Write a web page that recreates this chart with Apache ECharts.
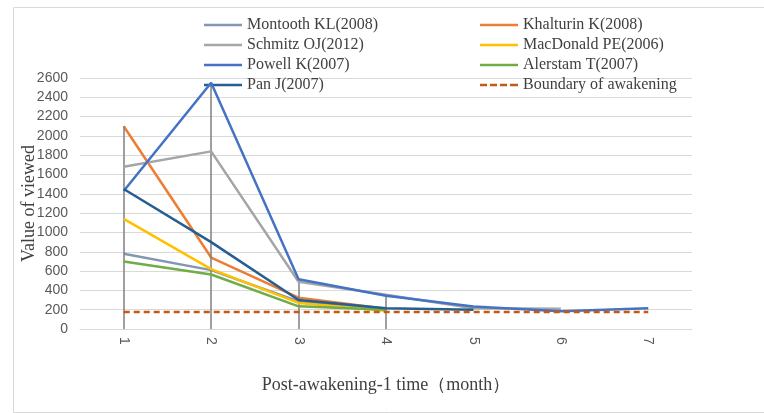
<!DOCTYPE html>
<html>
<head>
<meta charset="utf-8">
<script src="https://cdn.jsdelivr.net/npm/echarts@6/dist/echarts.min.js"></script>
<style>
html,body{margin:0;padding:0;background:#fff;}
#chart{width:764px;height:413px;}
</style>
</head>
<body>
<div id="chart"></div>
<script>
var categories = ['1','2','3','4','5','6','7'];
var montooth  = [780, 610, 285, 200, null, null, null];
var khalturin = [2100, 740, 325, 210, null, null, null];
var schmitz   = [1680, 1840, 490, 355, 215, 210, null];
var macdonald = [1140, 620, 270, 190, null, null, null];
var powell    = [1430, 2550, 515, 345, 232, 185, 215];
var alerstam  = [700, 565, 235, 200, null, null, null];
var panj      = [1450, 900, 300, 215, 200, null, null];
var boundary  = [175, 175, 175, 175, 175, 175, 175];
var dropCats  = ['1','2','3','4'];
var yTicks    = [0, 2600, 200];

var seriesDefs = [
  {name:'Montooth KL(2008)', data:montooth, color:'#8497B0'},
  {name:'Khalturin K(2008)', data:khalturin, color:'#ED7D31'},
  {name:'Schmitz OJ(2012)', data:schmitz, color:'#A5A5A5'},
  {name:'MacDonald PE(2006)', data:macdonald, color:'#FFC000'},
  {name:'Powell K(2007)', data:powell, color:'#4472C4'},
  {name:'Alerstam T(2007)', data:alerstam, color:'#70AD47'},
  {name:'Pan J(2007)', data:panj, color:'#255E91'},
  {name:'Boundary of awakening', data:boundary, color:'#C65911', dashed:true}
];

var solidIcon = 'path://M0,0h38v2.5h-38z';
var dashIcon = 'path://M0,0h7v2.5h-7zM10,0h7v2.5h-7zM20,0h7v2.5h-7zM30,0h8v2.5h-8z';

var series = seriesDefs.map(function(d, i){
  return {
    name:d.name, type:'line', data:d.data, symbol:'none', z:3+i,
    connectNulls:false,
    lineStyle:{color:d.color, width:2.5, type:d.dashed?[6,4]:'solid'},
    itemStyle:{color:d.color}
  };
});

function legendItems(names){
  return names.map(function(n){
    var d = seriesDefs.filter(function(s){ return s.name===n; })[0];
    return {name:n, icon:d.dashed ? dashIcon : solidIcon, itemStyle:{color:d.color}};
  });
}

var dropData = dropCats.map(function(c){
  var idx = categories.indexOf(c);
  var mx = -Infinity;
  seriesDefs.forEach(function(d){ var v=d.data[idx]; if(v!=null && v>mx) mx=v; });
  return [{coord:[c, mx]}, {coord:[c, 0]}];
});
series.push({
  type:'line', data:[], symbol:'none', z:2, silent:true,
  markLine:{silent:true, symbol:'none', label:{show:false},
    lineStyle:{color:'#7F7F7F', width:1.5, type:'solid'},
    data:dropData}
});

var serif = '"Liberation Serif","Times New Roman",serif';
var sans = '"Liberation Sans",Arial,sans-serif';
var legendText = {fontFamily:serif, fontSize:16, color:'#404040', lineHeight:16};

var chart = echarts.init(document.getElementById('chart'));
chart.setOption({
  animation:false,
  backgroundColor:'#fff',
  graphic:[{type:'rect', left:11, top:5, shape:{width:800, height:405},
    style:{fill:'none', stroke:'#D9D9D9', lineWidth:1}, z:-1}],
  legend:[
    {left:204, top:17, padding:0, orient:'vertical', itemWidth:38, itemHeight:14, itemGap:4,
     textStyle:legendText,
     data:legendItems(['Montooth KL(2008)','Schmitz OJ(2012)','Powell K(2007)','Pan J(2007)'])},
    {left:480, top:17, padding:0, orient:'vertical', itemWidth:38, itemHeight:14, itemGap:4,
     textStyle:legendText,
     data:legendItems(['Khalturin K(2008)','MacDonald PE(2006)','Alerstam T(2007)','Boundary of awakening'])}
  ],
  grid:{left:80, right:72, top:78, bottom:84, containLabel:false},
  xAxis:{
    type:'category', data:categories, boundaryGap:true,
    name:'Post-awakening-1 time\uFF08month\uFF09', nameLocation:'middle', nameGap:47,
    nameMoveOverlap:false,
    nameTextStyle:{fontFamily:serif, fontSize:18, color:'#404040'},
    axisLine:{show:true, lineStyle:{color:'#D9D9D9', width:1}},
    axisTick:{show:false},
    axisLabel:{rotate:-90, margin:8, fontFamily:sans, fontSize:14, color:'#595959'}
  },
  yAxis:{
    type:'value', min:yTicks[0], max:yTicks[1], interval:yTicks[2],
    name:'Value of viewed', nameLocation:'middle', nameGap:42,
    nameMoveOverlap:false,
    nameTextStyle:{fontFamily:serif, fontSize:18, color:'#404040'},
    axisLine:{show:false}, axisTick:{show:false},
    axisLabel:{margin:12, fontFamily:sans, fontSize:14, color:'#595959',
      formatter:function(v){ return String(v); }},
    splitLine:{lineStyle:{color:'#D9D9D9', width:1}}
  },
  series:series
});
</script>
</body>
</html>
